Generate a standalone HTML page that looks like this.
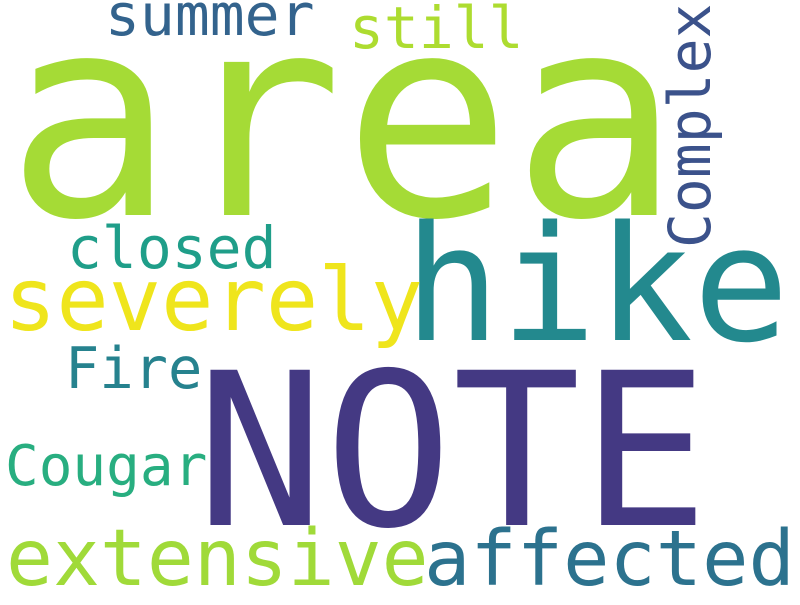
<!DOCTYPE html>
<html><head><meta charset="utf-8"><style>
html,body{margin:0;padding:0;background:#fff;}
svg text{font-family:"DejaVu Sans Mono","Liberation Mono",monospace;}
</style></head><body>
<svg width="800" height="600" viewBox="0 0 800 600" xmlns="http://www.w3.org/2000/svg">
<rect width="800" height="600" fill="#fff"/>
<text x="6" y="215" font-size="280" fill="#a5db36">area</text>
<text x="196" y="525" font-size="213" fill="#443983">NOTE</text>
<text x="404" y="340" font-size="160" fill="#23898e">hike</text>
<text x="4" y="330" font-size="87" fill="#efe51c">severely</text>
<text x="6" y="585" font-size="78" fill="#a0da39">extensive</text>
<text x="424" y="585" font-size="77" fill="#2c728e">affected</text>
<text x="5" y="485" font-size="56" fill="#28ae80">Cougar</text>
<text x="65" y="388" font-size="57" fill="#26828e">Fire</text>
<text x="67" y="268" font-size="58" fill="#1f9e89">closed</text>
<text x="105" y="35" font-size="58" fill="#33638d">summer</text>
<text x="349" y="48" font-size="58" fill="#addc30">still</text>
<text transform="translate(710,248) rotate(-90)" x="0" y="0" font-size="58" fill="#3b528b">Complex</text>
</svg>
</body></html>
